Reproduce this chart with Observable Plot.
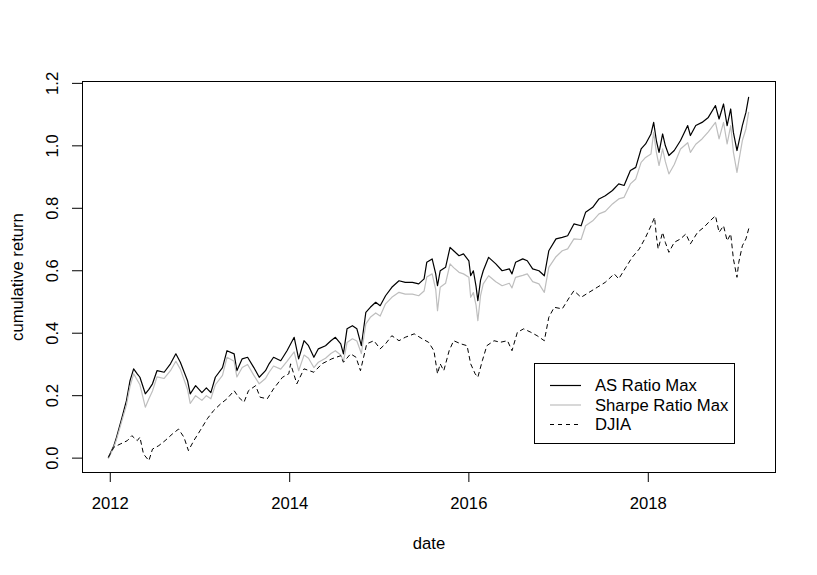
<!DOCTYPE html>
<html>
<head>
<meta charset="utf-8">
<script src="https://cdn.jsdelivr.net/npm/d3@7"></script>
<script src="https://cdn.jsdelivr.net/npm/@observablehq/plot@0.6"></script>
<style>
  html, body { margin: 0; padding: 0; background: #fff; }
  #chart { position: relative; width: 817px; height: 575px; }
</style>
</head>
<body>
<div id="chart"></div>
<script>
// ---- data (decimal years, cumulative return) ----
const asYears = [2011.98,2012.04,2012.07,2012.13,2012.18,2012.22,2012.26,2012.30,2012.33,2012.39,2012.43,2012.47,2012.52,2012.60,2012.67,2012.73,2012.78,2012.86,2012.89,2012.95,2013.02,2013.07,2013.12,2013.17,2013.25,2013.30,2013.38,2013.41,2013.47,2013.53,2013.60,2013.66,2013.73,2013.77,2013.82,2013.90,2013.97,2014.05,2014.10,2014.16,2014.21,2014.27,2014.32,2014.40,2014.46,2014.51,2014.57,2014.60,2014.64,2014.70,2014.75,2014.80,2014.85,2014.90,2014.96,2015.01,2015.07,2015.14,2015.22,2015.29,2015.37,2015.44,2015.50,2015.53,2015.59,2015.63,2015.65,2015.68,2015.74,2015.79,2015.83,2015.89,2015.94,2016.00,2016.02,2016.05,2016.08,2016.10,2016.13,2016.16,2016.22,2016.30,2016.37,2016.45,2016.48,2016.52,2016.60,2016.65,2016.71,2016.78,2016.84,2016.89,2016.97,2017.04,2017.10,2017.17,2017.25,2017.30,2017.38,2017.45,2017.52,2017.60,2017.67,2017.73,2017.80,2017.86,2017.92,2017.97,2018.03,2018.06,2018.09,2018.12,2018.16,2018.19,2018.23,2018.29,2018.36,2018.44,2018.47,2018.53,2018.60,2018.67,2018.75,2018.79,2018.84,2018.88,2018.92,2018.95,2018.99,2019.01,2019.05,2019.09,2019.12];
const asValues = [0.003,0.04,0.067,0.13,0.184,0.248,0.286,0.27,0.259,0.206,0.22,0.238,0.28,0.275,0.302,0.334,0.307,0.248,0.206,0.232,0.21,0.225,0.21,0.259,0.29,0.344,0.334,0.28,0.318,0.323,0.29,0.259,0.28,0.302,0.323,0.312,0.344,0.387,0.318,0.376,0.36,0.323,0.35,0.36,0.376,0.387,0.366,0.334,0.414,0.424,0.414,0.36,0.467,0.483,0.499,0.488,0.52,0.547,0.568,0.563,0.563,0.558,0.574,0.627,0.638,0.59,0.552,0.60,0.611,0.675,0.664,0.648,0.654,0.632,0.584,0.60,0.55,0.504,0.57,0.60,0.643,0.622,0.60,0.606,0.59,0.627,0.638,0.632,0.606,0.60,0.584,0.664,0.702,0.707,0.712,0.75,0.744,0.787,0.803,0.83,0.84,0.857,0.878,0.873,0.921,0.931,0.99,1.006,1.038,1.075,1.017,0.979,1.038,1.001,0.969,0.985,1.017,1.065,1.033,1.065,1.075,1.091,1.129,1.086,1.134,1.065,1.118,1.043,0.985,1.011,1.065,1.107,1.155];

const sharpeYears = asYears;
const sharpeValues = [0.0,0.035,0.06,0.12,0.17,0.23,0.27,0.25,0.235,0.163,0.19,0.215,0.26,0.255,0.28,0.31,0.285,0.22,0.175,0.20,0.185,0.2,0.19,0.235,0.265,0.323,0.31,0.26,0.29,0.30,0.265,0.238,0.255,0.275,0.295,0.285,0.31,0.34,0.28,0.33,0.32,0.29,0.307,0.32,0.335,0.344,0.33,0.31,0.37,0.382,0.375,0.335,0.43,0.451,0.465,0.455,0.494,0.515,0.531,0.525,0.525,0.52,0.535,0.58,0.59,0.54,0.472,0.547,0.56,0.622,0.61,0.595,0.59,0.579,0.515,0.53,0.49,0.44,0.52,0.558,0.584,0.565,0.552,0.56,0.545,0.579,0.585,0.59,0.565,0.558,0.531,0.611,0.645,0.664,0.67,0.702,0.70,0.744,0.76,0.782,0.79,0.814,0.83,0.835,0.878,0.894,0.947,0.963,0.974,1.043,0.98,0.937,0.99,0.95,0.91,0.94,0.99,1.01,0.979,1.005,1.022,1.045,1.075,1.022,1.075,1.006,1.065,0.98,0.915,0.95,1.017,1.054,1.107];

const djiaYears = [2011.98,2012.04,2012.11,2012.19,2012.24,2012.30,2012.33,2012.37,2012.43,2012.47,2012.54,2012.61,2012.69,2012.76,2012.82,2012.87,2012.93,2013.00,2013.08,2013.15,2013.23,2013.30,2013.38,2013.43,2013.49,2013.54,2013.62,2013.67,2013.75,2013.82,2013.92,2013.99,2014.01,2014.08,2014.16,2014.27,2014.36,2014.47,2014.57,2014.60,2014.68,2014.74,2014.79,2014.86,2014.94,2015.01,2015.07,2015.14,2015.22,2015.29,2015.39,2015.48,2015.55,2015.61,2015.65,2015.68,2015.72,2015.78,2015.83,2015.91,2015.98,2016.02,2016.07,2016.10,2016.15,2016.20,2016.28,2016.35,2016.43,2016.48,2016.54,2016.61,2016.69,2016.76,2016.84,2016.89,2016.95,2017.04,2017.12,2017.17,2017.25,2017.34,2017.43,2017.52,2017.62,2017.67,2017.75,2017.82,2017.90,2017.97,2018.03,2018.07,2018.09,2018.11,2018.16,2018.19,2018.23,2018.29,2018.36,2018.42,2018.47,2018.55,2018.62,2018.69,2018.75,2018.79,2018.84,2018.88,2018.92,2018.95,2018.99,2019.01,2019.05,2019.09,2019.13];
const djiaValues = [0.003,0.035,0.045,0.056,0.072,0.056,0.067,0.013,-0.008,0.029,0.04,0.056,0.077,0.093,0.067,0.024,0.056,0.088,0.126,0.152,0.174,0.19,0.216,0.195,0.179,0.216,0.232,0.195,0.19,0.222,0.259,0.27,0.302,0.238,0.286,0.275,0.302,0.318,0.328,0.307,0.334,0.323,0.28,0.366,0.376,0.35,0.366,0.392,0.376,0.387,0.398,0.382,0.371,0.344,0.27,0.302,0.28,0.344,0.376,0.366,0.36,0.302,0.27,0.259,0.312,0.36,0.376,0.371,0.376,0.344,0.403,0.414,0.403,0.392,0.376,0.451,0.483,0.478,0.515,0.536,0.515,0.531,0.547,0.563,0.59,0.574,0.611,0.643,0.67,0.707,0.744,0.771,0.712,0.67,0.723,0.691,0.659,0.691,0.702,0.718,0.686,0.723,0.739,0.76,0.776,0.723,0.744,0.696,0.718,0.638,0.579,0.627,0.68,0.702,0.744];

const seriesNames = ["AS Ratio Max", "Sharpe Ratio Max", "DJIA"];
const yTicks = [0, 0.2, 0.4, 0.6, 0.8, 1.0, 1.2];
const xTickYears = [2012, 2014, 2016, 2018];
const xLabel = "date";
const yLabel = "cumulative return";

// ---- helpers ----
function yearToDate(t) {
  const y = Math.floor(t);
  const s = Date.UTC(y, 0, 1), e = Date.UTC(y + 1, 0, 1);
  return new Date(s + (t - y) * (e - s));
}
const mk = (ys, vs) => ys.map((t, i) => ({date: yearToDate(t), value: vs[i]}));
const asData = mk(asYears, asValues);
const sharpeData = mk(sharpeYears, sharpeValues);
const djiaData = mk(djiaYears, djiaValues);
const xTicks = xTickYears.map(y => new Date(Date.UTC(y, 0, 1)));

const FONT = "Liberation Sans, Arial, Helvetica, sans-serif";
const FS = 16.67;

const svg = Plot.plot({
  width: 817,
  height: 575,
  marginLeft: 82,
  marginRight: 42,
  marginTop: 81,
  marginBottom: 103,
  style: {fontFamily: FONT, fontSize: FS + "px", color: "black", background: "white"},
  x: {type: "utc", domain: [yearToDate(2011.69), yearToDate(2019.42)]},
  y: {domain: [-0.046, 1.206]},
  marks: [
    Plot.line(asData, {x: "date", y: "value", stroke: "black", strokeWidth: 1.2}),
    Plot.line(sharpeData, {x: "date", y: "value", stroke: "#bebebe", strokeWidth: 1.2}),
    Plot.line(djiaData, {x: "date", y: "value", stroke: "black", strokeWidth: 1, strokeDasharray: "4,4"}),
    Plot.frame({stroke: "black", strokeWidth: 1}),
    Plot.axisX({ticks: xTicks, tickSize: 10, tickFormat: () => "", label: null}),
    Plot.axisY({ticks: yTicks, tickSize: 10, tickFormat: () => "", label: null}),
    Plot.text(xTicks, {x: d => d, text: d => String(d.getUTCFullYear()), frameAnchor: "bottom", dy: 31.5, lineAnchor: "middle", textAnchor: "middle", fontSize: FS, fill: "black"}),
    Plot.text(yTicks, {y: d => d, text: d => d.toFixed(1), frameAnchor: "left", dx: -29.5, rotate: -90, lineAnchor: "middle", textAnchor: "middle", fontSize: FS, fill: "black"}),
    Plot.text([xLabel], {text: d => d, frameAnchor: "bottom", dy: 71, lineAnchor: "middle", textAnchor: "middle", fontSize: FS, fill: "black"}),
    Plot.text([yLabel], {text: d => d, frameAnchor: "left", dx: -65, rotate: -90, lineAnchor: "middle", textAnchor: "middle", fontSize: FS, fill: "black"})
  ]
});

// ---- legend (inside plot area, bottom right) ----
const g = d3.select(svg).append("g")
  .attr("font-family", FONT).attr("font-size", FS).attr("text-anchor", "start");
g.append("rect").attr("x", 534.5).attr("y", 363.5).attr("width", 200).attr("height", 80)
  .attr("fill", "white").attr("stroke", "black").attr("stroke-width", 1);
const legendStyles = [
  {stroke: "black", dash: null, w: 1.2},
  {stroke: "#bebebe", dash: null, w: 1.2},
  {stroke: "black", dash: "4,4", w: 1}
];
const rowY = [385.5, 405, 424.5];
seriesNames.forEach((name, i) => {
  const l = g.append("line").attr("x1", 550).attr("x2", 581).attr("y1", rowY[i]).attr("y2", rowY[i])
    .attr("stroke", legendStyles[i].stroke).attr("stroke-width", legendStyles[i].w);
  if (legendStyles[i].dash) l.attr("stroke-dasharray", legendStyles[i].dash);
  g.append("text").attr("x", 595).attr("y", rowY[i]).attr("dy", "0.34em")
    .attr("text-anchor", "start").attr("fill", "black").text(name);
});

document.getElementById("chart").appendChild(svg);
</script>
</body>
</html>
